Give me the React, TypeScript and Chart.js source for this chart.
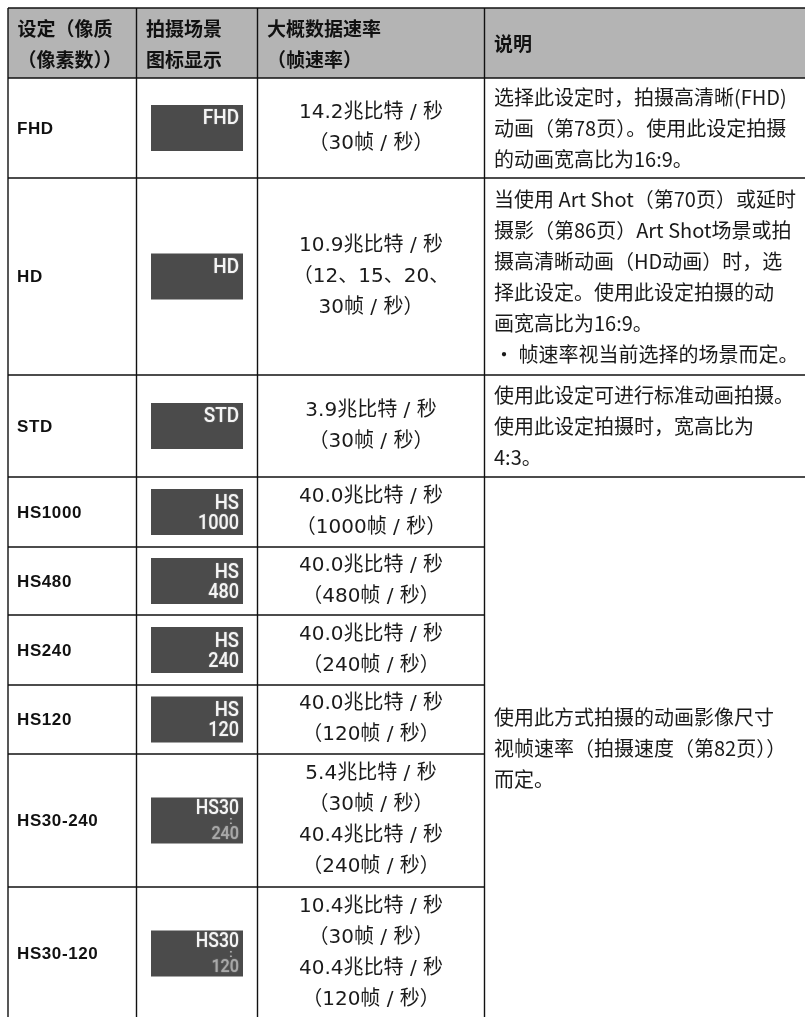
import React, { useEffect, useRef } from "react";
import { Chart, registerables } from "chart.js";

Chart.register(...registerables);

// ---------- data ----------
const headerCol1 = ["设定（像质", "（像素数））"];
const headerCol2 = ["拍摄场景", "图标显示"];
const headerCol3 = ["大概数据速率", "（帧速率）"];
const headerCol4 = ["说明"];

const settings = ["FHD", "HD", "STD", "HS1000", "HS480", "HS240", "HS120", "HS30-240", "HS30-120"];
const iconTop = ["FHD", "HD", "STD", "HS", "HS", "HS", "HS", "HS30", "HS30"];
const iconBottom = ["", "", "", "1000", "480", "240", "120", "240", "120"];

const mbps = [14.2, 10.9, 3.9, 40.0, 40.0, 40.0, 40.0, 5.4, 10.4];
const fps = ["30", "12、15、20、30", "30", "1000", "480", "240", "120", "30", "30"];
const mbpsHigh = [null, null, null, null, null, null, null, 40.4, 40.4];
const fpsHigh = [null, null, null, null, null, null, null, "240", "120"];

const descFHD = ["选择此设定时，拍摄高清晰(FHD)", "动画（第78页）。使用此设定拍摄", "的动画宽高比为16:9。"];
const descHD = [
  "当使用 Art Shot（第70页）或延时",
  "摄影（第86页）Art Shot场景或拍",
  "摄高清晰动画（HD动画）时，选",
  "择此设定。使用此设定拍摄的动",
  "画宽高比为16:9。",
  "• 帧速率视当前选择的场景而定。",
];
const descSTD = ["使用此设定可进行标准动画拍摄。", "使用此设定拍摄时，宽高比为", "4:3。"];
const descHS = ["使用此方式拍摄的动画影像尺寸", "视帧速率（拍摄速度（第82页））", "而定。"];
const descCells = [descFHD, descHD, descSTD, descHS];
const descSpans = [1, 1, 1, 6];

// ---------- layout ----------
const W = 805;
const H = 1017;
const COLS = [8, 136.5, 257.5, 484.5, 805];
const TOP = 8;
const HEADER_H = 70;
const ROW_H = [100, 197, 102, 70, 68, 70, 69, 133, 133];
const BODY_LH = 31;
const HEAD_LH = 31;
const ICON_X0 = 151;
const ICON_X1 = 243;
const ICON_H = 46;

const CJK = '"Noto Sans CJK SC", "Noto Sans CJK JP", sans-serif';
const RATE_FONT = '20px "DejaVu Sans", "Noto Sans CJK SC", sans-serif';
const ICON_FONT = 'Roboto, "DejaVu Sans", sans-serif';

function rateLines(i: number): string[] {
  const lines: string[] = [];
  lines.push(`${mbps[i].toFixed(1)}兆比特 / 秒`);
  const f = fps[i];
  if (f.includes("、")) {
    const k = f.lastIndexOf("、");
    lines.push(`（${f.slice(0, k + 1)}`);
    lines.push(`${f.slice(k + 1)}帧 / 秒）`);
  } else {
    lines.push(`（${f}帧 / 秒）`);
  }
  if (mbpsHigh[i] != null) {
    lines.push(`${(mbpsHigh[i] as number).toFixed(1)}兆比特 / 秒`);
    lines.push(`（${fpsHigh[i]}帧 / 秒）`);
  }
  return lines;
}

const tablePlugin = {
  id: "tablePlugin",
  afterDraw(chart: any) {
    const ctx: CanvasRenderingContext2D = chart.ctx;
    const xs = chart.scales.x;
    const ys = chart.scales.y;
    const px = (v: number) => xs.getPixelForValue(v);
    const py = (v: number) => ys.getPixelForValue(v);

    const bounds: number[] = [TOP, TOP + HEADER_H];
    ROW_H.forEach((h) => bounds.push(bounds[bounds.length - 1] + h));

    ctx.save();
    // header background
    ctx.fillStyle = "#b4b4b4";
    ctx.fillRect(px(COLS[0]), py(bounds[0]), px(COLS[4]) - px(COLS[0]), py(bounds[1]) - py(bounds[0]));

    // header text
    ctx.fillStyle = "#111";
    ctx.font = `bold 19px ${CJK}`;
    ctx.textAlign = "left";
    ctx.textBaseline = "middle";
    const headers = [headerCol1, headerCol2, headerCol3, headerCol4];
    const hc = (bounds[0] + bounds[1]) / 2 + 1;
    headers.forEach((lines, c) => {
      const x0 = COLS[c] + 9.5;
      lines.forEach((t, k) => {
        const y = hc + (k - (lines.length - 1) / 2) * HEAD_LH;
        ctx.fillText(t, px(x0), py(y));
      });
    });

    // rows
    settings.forEach((name, i) => {
      const y0 = bounds[i + 1];
      const y1 = bounds[i + 2];
      const yc = (y0 + y1) / 2;

      // label
      ctx.fillStyle = "#111";
      ctx.font = `bold 17px "Liberation Sans", Arial, sans-serif`;
      (ctx as any).letterSpacing = "0.6px";
      ctx.textAlign = "left";
      ctx.textBaseline = "middle";
      ctx.fillText(name, px(COLS[0] + 9), py(yc + 1));
      (ctx as any).letterSpacing = "0px";

      // icon box
      const bt = yc - ICON_H / 2;
      ctx.fillStyle = "#4b4b4b";
      ctx.fillRect(px(ICON_X0), py(bt), px(ICON_X1) - px(ICON_X0), py(bt + ICON_H) - py(bt));

      const drawIcon = (t: string, xr: number, y: number, size: number, color: string, sx: number, align: CanvasTextAlign = "right") => {
        ctx.save();
        ctx.translate(px(xr), py(y));
        ctx.scale(sx, 1);
        ctx.font = `500 ${size}px ${ICON_FONT}`;
        ctx.textAlign = align;
        ctx.textBaseline = "middle";
        ctx.shadowColor = "rgba(255,255,255,0.4)";
        ctx.shadowBlur = 1.5;
        ctx.fillStyle = color;
        ctx.fillText(t, 0, 0);
        ctx.restore();
      };
      if (!iconBottom[i]) {
        drawIcon(iconTop[i], ICON_X1 - 4, bt + 14, 21, "#f4f4f4", 0.9);
      } else if (iconTop[i] === "HS") {
        drawIcon(iconTop[i], ICON_X1 - 4, bt + 14.5, 21, "#f4f4f4", 0.88);
        drawIcon(iconBottom[i], ICON_X1 - 4, bt + 34.5, 21, "#f4f4f4", 0.86);
      } else {
        drawIcon(iconTop[i], ICON_X1 - 4, bt + 11.5, 20, "#f4f4f4", 0.88);
        drawIcon(":", ICON_X1 - 12, bt + 24, 11, "#c8c8c8", 1, "center");
        drawIcon(iconBottom[i], ICON_X1 - 4, bt + 37, 18, "#a8a8a8", 0.9);
      }

      // rate text
      const lines = rateLines(i);
      ctx.fillStyle = "#1a1a1a";
      ctx.font = RATE_FONT;
      ctx.textAlign = "center";
      ctx.textBaseline = "middle";
      const cx = (COLS[2] + COLS[3]) / 2;
      lines.forEach((t, k) => {
        const y = yc + (k - (lines.length - 1) / 2) * BODY_LH;
        ctx.fillText(t, px(cx), py(y));
      });
    });

    // description cells
    let r = 0;
    descCells.forEach((lines, d) => {
      const y0 = bounds[r + 1];
      const y1 = bounds[r + 1 + descSpans[d]];
      const yc = (y0 + y1) / 2;
      ctx.fillStyle = "#1a1a1a";
      ctx.font = `20px ${CJK}`;
      ctx.textAlign = "left";
      ctx.textBaseline = "middle";
      lines.forEach((t, k) => {
        const y = yc + (k - (lines.length - 1) / 2) * BODY_LH;
        ctx.fillText(t, px(COLS[3] + 9.5), py(y));
      });
      r += descSpans[d];
    });

    // grid lines
    ctx.strokeStyle = "#111";
    ctx.lineWidth = 1.4;
    const hline = (y: number, xa: number, xb: number) => {
      ctx.beginPath();
      ctx.moveTo(px(xa), py(y));
      ctx.lineTo(px(xb), py(y));
      ctx.stroke();
    };
    const vline = (x: number, ya: number, yb: number) => {
      ctx.beginPath();
      ctx.moveTo(px(x), py(ya));
      ctx.lineTo(px(x), py(yb));
      ctx.stroke();
    };
    const last = bounds[bounds.length - 1];
    bounds.forEach((y, k) => {
      const inMerged = k >= 5 && k < bounds.length - 1;
      hline(y, COLS[0], inMerged ? COLS[3] : COLS[4]);
    });
    [COLS[0], COLS[1], COLS[2], COLS[3]].forEach((x) => vline(x, bounds[0], last));
    ctx.restore();
  },
};

export default function App() {
  const ref = useRef<HTMLCanvasElement | null>(null);
  useEffect(() => {
    if (!ref.current) return;
    const chart = new Chart(ref.current, {
      type: "scatter",
      data: { datasets: [] },
      options: {
        animation: false,
        responsive: false,
        events: [],
        layout: { padding: 0 },
        plugins: { legend: { display: false }, tooltip: { enabled: false } },
        scales: {
          x: { type: "linear", min: 0, max: W, display: false },
          y: { type: "linear", min: 0, max: H, reverse: true, display: false },
        },
      },
      plugins: [tablePlugin],
    });
    return () => chart.destroy();
  }, []);
  return (
    <div style={{ position: "fixed", left: 0, top: 0, width: W, height: H, overflow: "hidden", background: "#fff" }}>
      <canvas ref={ref} width={W} height={H} style={{ display: "block", width: W, height: H }} />
    </div>
  );
}
